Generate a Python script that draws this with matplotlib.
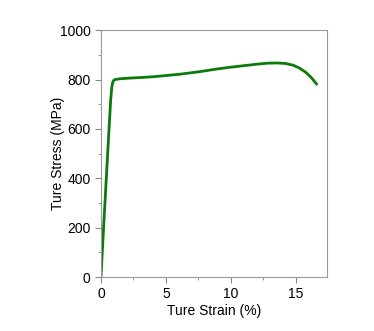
import numpy as np
import matplotlib.pyplot as plt
from matplotlib.ticker import MultipleLocator

plt.rcParams['font.family'] = ['Liberation Sans', 'DejaVu Sans']

# true strain (%) and true stress (MPa)
strain = [0, 0.2, 0.41, 0.62, 0.75, 0.83, 0.9, 0.97, 1.05, 1.2, 1.5, 2.0, 3.0, 4.0, 5.0, 6.0, 7.5,
          9.0, 10.0, 11.0, 12.0, 12.8, 13.5, 14.2, 14.8, 15.3, 15.8, 16.2, 16.6]
stress = [0, 200, 400, 600, 720, 768, 788, 796, 799, 801, 803, 805, 808, 811, 816, 821, 831,
          843, 850, 856, 862, 866, 867, 865, 858, 846, 828, 808, 782]

fig = plt.figure(figsize=(3.74, 3.31), dpi=100)
ax = fig.add_axes([0.270, 0.163, 0.604, 0.746])

ax.plot(strain, stress, color='#0a7a0a', lw=2)

ax.set_xlim(0, 17.4)
ax.set_ylim(0, 1000)
ax.xaxis.set_major_locator(MultipleLocator(5))
ax.xaxis.set_minor_locator(MultipleLocator(2.5))
ax.yaxis.set_major_locator(MultipleLocator(200))
ax.yaxis.set_minor_locator(MultipleLocator(100))
ax.tick_params(which='both', direction='out', color='#888888', labelsize=10)
ax.tick_params(which='major', length=4)
ax.tick_params(which='minor', length=2)
for s in ax.spines.values():
    s.set_color('#999999')

ax.set_xlabel('Ture Strain (%)', fontsize=10, labelpad=2)
ax.set_ylabel('Ture Stress (MPa)', fontsize=10)
ax.yaxis.set_label_coords(-0.16, 0.5)

fig.savefig('out.png', dpi=100)
